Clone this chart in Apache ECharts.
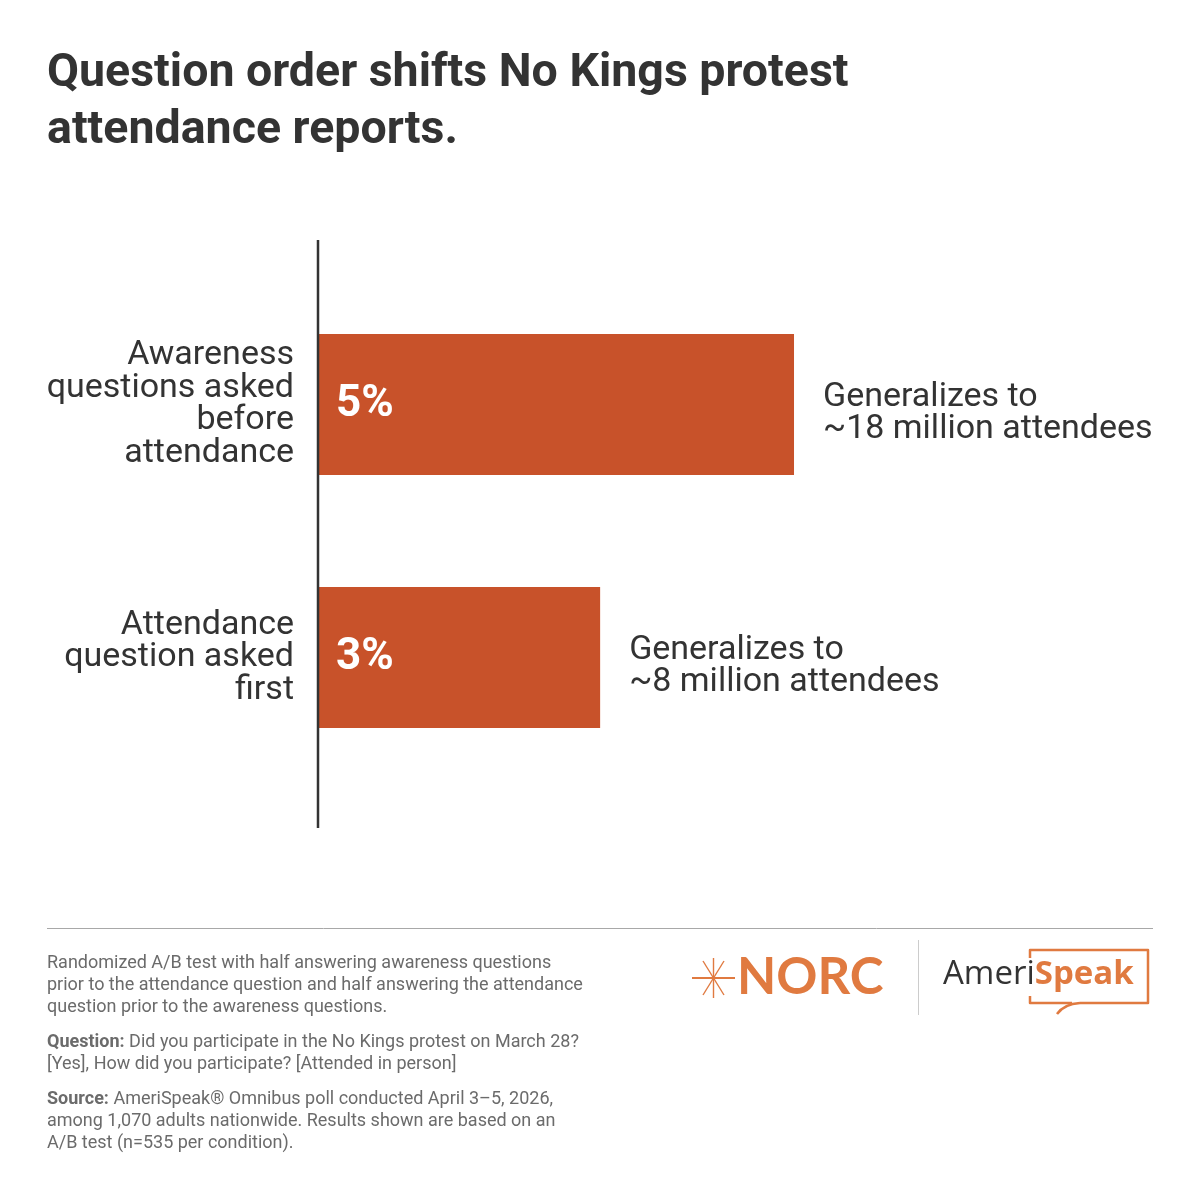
<!DOCTYPE html>
<html>
<head>
<meta charset="utf-8">
<script src="https://cdn.jsdelivr.net/npm/echarts@6/dist/echarts.min.js"></script>
<style>
html,body{margin:0;padding:0;background:#fff;}
#chart{width:1200px;height:1200px;}
</style>
</head>
<body>
<div id="chart"></div>
<script>
const titleText = 'Question order shifts No Kings protest\nattendance reports.';
const categories = ['Awareness\nquestions asked\nbefore\nattendance', 'Attendance\nquestion asked\nfirst'];
const values = [4.9, 2.9];
const valueLabels = ['5%', '3%'];
const notes = ['Generalizes to\n~18 million attendees', 'Generalizes to\n~8 million attendees'];
const footnote1 = 'Randomized A/B test with half answering awareness questions\nprior to the attendance question and half answering the attendance\nquestion prior to the awareness questions.';
const questionText = 'Did you participate in the No Kings protest on March 28?\n[Yes], How did you participate? [Attended in person]';
const sourceText = 'AmeriSpeak\u00AE Omnibus poll conducted April 3\u20135, 2026,\namong 1,070 adults nationwide. Results shown are based on an\nA/B test (n=535 per condition).';

const BAR = '#C8522A';
const TEXT = '#333333';
const GRAY = '#6b6b6b';
const ORANGE = '#E07A40';
const FONT = 'Roboto, "Noto Sans", sans-serif';

const chart = echarts.init(document.getElementById('chart'), null, {renderer: 'canvas'});

chart.setOption({
  backgroundColor: '#ffffff',
  animation: false,
  title: {
    text: titleText,
    left: 42,
    top: 41,
    textStyle: {fontFamily: FONT, fontSize: 46.5, fontWeight: 'bold', color: TEXT, lineHeight: 57}
  },
  grid: {left: 319, right: 57, top: 278, height: 506, containLabel: false},
  xAxis: {
    type: 'value', min: 0, max: 8.5, show: false
  },
  yAxis: {
    type: 'category',
    data: categories,
    inverse: true,
    axisLine: {show: false},
    axisTick: {show: false},
    axisLabel: {
      margin: 25,
      fontFamily: FONT, fontSize: 34, color: TEXT, lineHeight: 32.5, align: 'right',
      padding: [9, 0, 0, 0]
    }
  },
  series: [
    {
      type: 'bar',
      data: values,
      barWidth: 141,
      itemStyle: {color: BAR},
      label: {
        show: true, position: 'insideLeft', distance: 17,
        formatter: p => valueLabels[p.dataIndex],
        fontFamily: FONT, fontSize: 44, fontWeight: 'bold', color: '#ffffff'
      }
    },
    {
      type: 'bar',
      data: values,
      barWidth: 141,
      barGap: '-100%',
      itemStyle: {color: 'rgba(0,0,0,0)'},
      silent: true,
      label: {
        show: true, position: 'right', distance: 29, offset: [0, 9],
        formatter: p => notes[p.dataIndex],
        fontFamily: FONT, fontSize: 34, color: TEXT, lineHeight: 32, align: 'left'
      }
    }
  ],
  graphic: [
    {type: 'line', shape: {x1: 318, y1: 240, x2: 318, y2: 828}, style: {stroke: TEXT, lineWidth: 2.5}, z: 10},
    {type: 'line', shape: {x1: 47, y1: 928.5, x2: 1153, y2: 928.5}, style: {stroke: '#a8a8a8', lineWidth: 1}},
    {type: 'text', x: 47, y: 952, style: {text: footnote1, fontFamily: FONT, fontSize: 18, lineHeight: 22, fill: GRAY}},
    {type: 'text', x: 47, y: 1031, style: {
      text: '{b|Question:} ' + questionText,
      fontFamily: FONT, fontSize: 18, lineHeight: 22, fill: GRAY,
      rich: {b: {fontFamily: FONT, fontSize: 18, fontWeight: 'bold', fill: GRAY, lineHeight: 22}}
    }},
    {type: 'text', x: 47, y: 1088, style: {
      text: '{b|Source:} ' + sourceText,
      fontFamily: FONT, fontSize: 18, lineHeight: 22, fill: GRAY,
      rich: {b: {fontFamily: FONT, fontSize: 18, fontWeight: 'bold', fill: GRAY, lineHeight: 22}}
    }},
    // NORC star
    {type: 'line', shape: {x1: 692, y1: 978, x2: 735, y2: 978}, style: {stroke: ORANGE, lineWidth: 1.8}},
    {type: 'line', shape: {x1: 713.5, y1: 958, x2: 713.5, y2: 998}, style: {stroke: ORANGE, lineWidth: 1.4}},
    {type: 'line', shape: {x1: 703, y1: 961, x2: 724, y2: 995}, style: {stroke: ORANGE, lineWidth: 1.4}},
    {type: 'line', shape: {x1: 724, y1: 961, x2: 703, y2: 995}, style: {stroke: ORANGE, lineWidth: 1.4}},
    {type: 'text', x: 737, y: 952, style: {text: 'NORC', fontFamily: 'Lato, "Noto Sans", sans-serif', fontSize: 51, fontWeight: 'bold', fill: ORANGE}},
    {type: 'line', shape: {x1: 918.5, y1: 940, x2: 918.5, y2: 1015}, style: {stroke: '#cccccc', lineWidth: 1}},
    // AmeriSpeak
    {type: 'text', x: 943, y: 958, style: {
      text: '{a|Ameri}{s|Speak}',
      rich: {
        a: {fontFamily: '"Open Sans", sans-serif', fontSize: 33, fontWeight: 500, fill: '#333333'},
        s: {fontFamily: '"Open Sans", sans-serif', fontSize: 33, fontWeight: 'bold', fill: ORANGE}
      }
    }},
    {type: 'polyline', shape: {points: [[1030,958],[1030,950],[1148,950],[1148,1003],[1080,1003]]},
      style: {stroke: ORANGE, lineWidth: 2.5, fill: null, lineJoin: 'round'}},
    {type: 'polyline', shape: {points: [[1072,1003],[1030,1003],[1030,996]]},
      style: {stroke: ORANGE, lineWidth: 2.5, fill: null, lineJoin: 'round'}},
    {type: 'bezierCurve', shape: {x1: 1080, y1: 1003, cpx1: 1064, cpy1: 1004, x2: 1057, y2: 1014},
      style: {stroke: ORANGE, lineWidth: 2.5, fill: null}}
  ]
});
</script>
</body>
</html>
